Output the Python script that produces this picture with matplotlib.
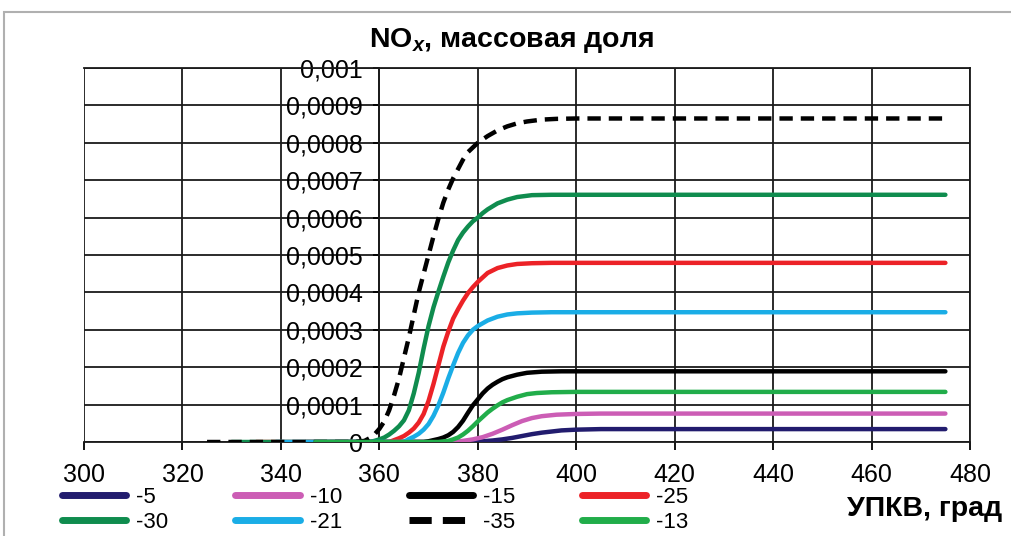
import matplotlib
matplotlib.use('Agg')
import matplotlib.pyplot as plt
import numpy as np
from matplotlib.ticker import FuncFormatter, MultipleLocator
from matplotlib.patches import Rectangle
from matplotlib.lines import Line2D

plt.rcParams['font.family'] = ['Liberation Sans', 'DejaVu Sans']
plt.rcParams['mathtext.fontset'] = 'custom'
plt.rcParams['mathtext.it'] = 'Liberation Sans:italic:bold'
plt.rcParams['mathtext.rm'] = 'Liberation Sans:bold'

# данные: угол (град) и массовая доля NOx в единицах 1e-4
x_m5 = [355, 379, 381, 383, 385, 387, 389, 391, 393, 395, 397, 400, 405, 475]
y_m5 = [0, 0, 0.02, 0.04, 0.07, 0.11, 0.16, 0.21, 0.25, 0.28, 0.31, 0.33, 0.345, 0.345]

x_m10 = [350, 375, 377, 379, 381, 383, 385, 387, 389, 391, 393, 396, 400, 405, 475]
y_m10 = [0, 0, 0.03, 0.07, 0.13, 0.22, 0.33, 0.45, 0.56, 0.64, 0.69, 0.73, 0.75, 0.76, 0.76]

x_m15 = [345, 369, 370, 371, 372, 373, 374, 375, 376, 377, 378, 379, 380, 381, 382, 383, 384, 385, 386,
         388, 390, 393, 397, 475]
y_m15 = [0, 0, 0.02, 0.05, 0.08, 0.12, 0.18, 0.27, 0.4, 0.57, 0.78, 0.98, 1.14, 1.3, 1.43, 1.53, 1.61, 1.68,
         1.73, 1.8, 1.85, 1.88, 1.89, 1.89]

x_m25 = [335, 362, 363, 364, 365, 366, 367, 368, 369, 370, 371, 372, 373, 374, 375, 376, 377, 378, 379, 380,
         382, 384, 386, 388, 391, 395, 475]
y_m25 = [0, 0, 0.05, 0.1, 0.16, 0.25, 0.36, 0.52, 0.75, 1.1, 1.55, 2.05, 2.55, 2.95, 3.3, 3.55, 3.78, 3.98,
         4.14, 4.28, 4.52, 4.65, 4.72, 4.76, 4.78, 4.79, 4.79]

x_m30 = [330, 358, 359, 360, 361, 362, 363, 364, 365, 366, 367, 368, 369, 370, 371, 372, 373, 374, 375, 376,
         377, 378, 379, 380, 381, 382, 384, 386, 388, 391, 395, 475]
y_m30 = [0, 0, 0.03, 0.07, 0.12, 0.2, 0.3, 0.42, 0.58, 0.85, 1.3, 1.85, 2.5, 3.1, 3.6, 4.02, 4.42, 4.8, 5.12,
         5.4, 5.6, 5.76, 5.9, 6.0, 6.12, 6.22, 6.38, 6.48, 6.55, 6.6, 6.61, 6.61]

x_m21 = [339, 365, 366, 367, 368, 369, 370, 371, 372, 373, 374, 375, 376, 377, 378, 379, 380, 382, 384, 386,
         388, 391, 395, 475]
y_m21 = [0, 0, 0.08, 0.14, 0.22, 0.33, 0.48, 0.7, 0.98, 1.32, 1.7, 2.05, 2.38, 2.65, 2.85, 3.0, 3.1, 3.25,
         3.35, 3.41, 3.44, 3.46, 3.47, 3.47]

x_m35 = [325, 355, 357, 358, 359, 360, 361, 362, 363, 364, 365, 366, 367, 368, 369, 370, 371, 372, 373, 374,
         375, 376, 377, 378, 380, 382, 384, 386, 388, 390, 393, 396, 400, 475]
y_m35 = [0, 0, 0.03, 0.1, 0.2, 0.35, 0.55, 0.85, 1.25, 1.7, 2.25, 2.8, 3.4, 4.0, 4.5, 5.0, 5.5, 5.97, 6.4,
         6.75, 7.05, 7.3, 7.55, 7.75, 8.0, 8.18, 8.33, 8.44, 8.52, 8.57, 8.62, 8.64, 8.65, 8.65]

x_m13 = [347, 372, 374, 375, 376, 377, 378, 379, 380, 381, 382, 383, 384, 385, 386, 388, 390, 392, 395, 400, 475]
y_m13 = [0, 0, 0.03, 0.07, 0.12, 0.2, 0.3, 0.42, 0.55, 0.67, 0.79, 0.89, 0.98, 1.06, 1.12, 1.21, 1.28,
         1.31, 1.33, 1.34, 1.34]

labels = ['-5', '-10', '-15', '-25', '-30', '-21', '-35', '-13']
xs = [x_m5, x_m10, x_m15, x_m25, x_m30, x_m21, x_m35, x_m13]
ys = [y_m5, y_m10, y_m15, y_m25, y_m30, y_m21, y_m35, y_m13]
colors = ['#221c6e', '#cc5db5', '#000000', '#ec2227', '#0f8c4e', '#1aade6', '#000000', '#21ad4a']
styles = ['-', '-', '-', '-', '-', '-', '--', '-']

fig = plt.figure(figsize=(10.11, 5.36), dpi=100)
fig.patches.append(Rectangle((0.004, -0.1), 1.2, 1.1 - 12 / 536, transform=fig.transFigure,
                             fill=False, edgecolor='#b0b0b0', linewidth=1.5))

ax = fig.add_axes([84 / 1011, 1 - 442 / 536, (970 - 84) / 1011, (442 - 68) / 536])

handles = {}
for x, y, c, s, lab in zip(xs, ys, colors, styles, labels):
    ln, = ax.plot(x, np.array(y) * 1e-4, color=c, linestyle=s, lw=3.2,
                  solid_capstyle='round', zorder=3)
    h = Line2D([], [], color=c, linestyle=s, lw=5, solid_capstyle='round')
    if s == '--':
        ln.set_dashes((3, 1.8))
        h.set_dashes((3.2, 1.6))
    handles[lab] = h

ax.set_xlim(300, 480)
ax.set_ylim(0, 0.001)
ax.xaxis.set_major_locator(MultipleLocator(20))
ax.yaxis.set_major_locator(MultipleLocator(0.0001))


def fmt(v, pos):
    v = round(v, 4)
    if v == 0:
        return '0'
    return ('%.4f' % v).rstrip('0').replace('.', ',')


ax.yaxis.set_major_formatter(FuncFormatter(fmt))
ax.grid(True, color='#1a1a1a', lw=1.3)
ax.set_axisbelow(True)

ax.spines['left'].set_position(('data', 360))
for sp in ax.spines.values():
    sp.set_color('#1a1a1a')
    sp.set_linewidth(1.3)

ax.tick_params(axis='x', direction='out', length=6, width=1.3, pad=9, labelsize=18)
ax.tick_params(axis='y', direction='out', length=4, width=1.3, pad=8, labelsize=18)

fig.text(0.506, 0.925, r'NO$_{\mathit{x}}$, массовая доля', ha='center', va='center',
         fontsize=20.5, fontweight='bold')
fig.text(0.991, 0.05, 'УПКВ, град', ha='right', va='center', fontsize=20.5, fontweight='bold')

order = ['-5', '-30', '-10', '-21', '-15', '-35', '-25', '-13']
fig.legend([handles[k] for k in order], order, ncol=4, loc='upper left',
           bbox_to_anchor=(62 / 1011, 1 - 487 / 536), frameon=False, fontsize=16,
           handlelength=2.9, handletextpad=0.45, columnspacing=3.0, labelspacing=0.18,
           borderpad=0, borderaxespad=0)

plt.savefig('out.png', dpi=100)
plt.close()
